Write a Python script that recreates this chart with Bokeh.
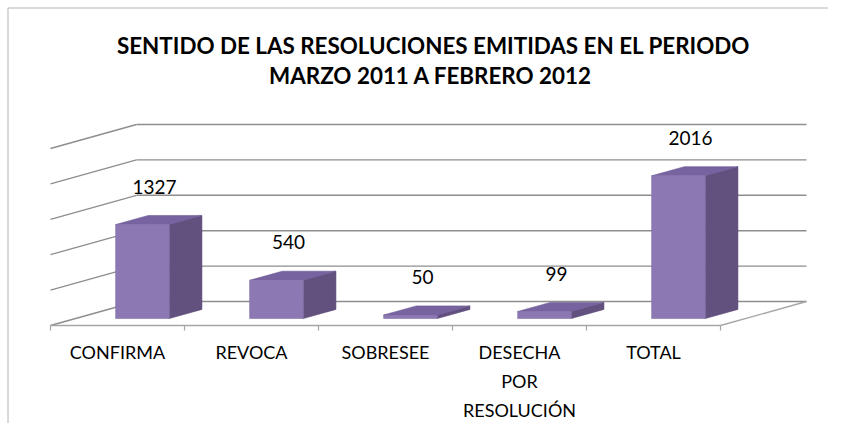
from bokeh.plotting import figure
from bokeh.models import Range1d
from bokeh.embed import file_html
from bokeh.resources import INLINE
from bokeh.core.properties import value

# ---- data ----
categories = ["CONFIRMA", "REVOCA", "SOBRESEE", "DESECHA\nPOR\nRESOLUCIÓN", "TOTAL"]
counts = [1327, 540, 50, 99, 2016]
grid_values = [0, 500, 1000, 1500, 2000, 2500]
title_lines = ["SENTIDO DE LAS RESOLUCIONES EMITIDAS EN EL PERIODO",
               "MARZO 2011  A FEBRERO 2012"]

# ---- geometry (pixel scale of the 3D projection) ----
W, H = 828, 423
X0, Y0 = 50, 325        # canvas px of the front-floor origin
UX = 134.0              # px per category
KY = 0.0708             # px per value unit
DX = 86 / UX            # depth offset in x (category units)
DY = 24 / KY            # depth offset in y (value units)
F0, F1 = 0.29, 0.67     # bar depth span (fraction of floor depth)
BW = 0.40               # bar width (category units)
N = len(categories)


def sx(px):
    return (px - X0) / UX


def sy(py):
    return (Y0 - py) / KY


p = figure(width=W, height=H,
           x_range=Range1d(sx(0), sx(W)), y_range=Range1d(sy(H), sy(0)),
           output_backend="svg", toolbar_location=None, min_border=0,
           x_axis_location=None, y_axis_location=None)
p.grid.visible = False
p.outline_line_color = None
p.background_fill_color = "white"

# chart border (left + top)
p.line([sx(7.5), sx(7.5)], [sy(H), sy(7.5)], line_color="#b4b4b4", line_width=1)
p.line([sx(7.5), sx(W)], [sy(7.5), sy(7.5)], line_color="#b4b4b4", line_width=1)

# back wall gridlines + left wall diagonals
grid_col = "#8e8e8e"
p.multi_line([[DX, N + DX] for v in grid_values],
             [[DY + v, DY + v] for v in grid_values],
             line_color=grid_col, line_width=1.4)
p.multi_line([[0, DX] for v in grid_values],
             [[v, DY + v] for v in grid_values],
             line_color=grid_col, line_width=1.4)

# floor front edge, right edge, ticks
floor_col = "#a6a6a6"
p.line([0, N], [0, 0], line_color=floor_col, line_width=1.4)
p.line([N, N + DX], [0, DY], line_color=floor_col, line_width=1.4)
p.multi_line([[i, i] for i in range(N + 1)],
             [[0, -5 / KY] for i in range(N + 1)],
             line_color=floor_col, line_width=1.2)

# ---- 3D bars ----
front_xs, front_ys, side_xs, side_ys, top_xs, top_ys = [], [], [], [], [], []
for i, v in enumerate(counts):
    l = i + 0.5 - BW / 2
    r = i + 0.5 + BW / 2
    ax0, ay0 = F0 * DX, F0 * DY
    ax1, ay1 = F1 * DX, F1 * DY
    front_xs.append([l + ax0, r + ax0, r + ax0, l + ax0])
    front_ys.append([ay0, ay0, ay0 + v, ay0 + v])
    side_xs.append([r + ax0, r + ax1, r + ax1, r + ax0])
    side_ys.append([ay0, ay1, ay1 + v, ay0 + v])
    top_xs.append([l + ax0, r + ax0, r + ax1, l + ax1])
    top_ys.append([ay0 + v, ay0 + v, ay1 + v, ay1 + v])

p.patches(side_xs, side_ys, fill_color="#62507f", line_color="#5a4876", line_width=0.6)
p.patches(top_xs, top_ys, fill_color="#7663a0", line_color="#6d5a95", line_width=0.6)
p.patches(front_xs, front_ys, fill_color="#8c78b2", line_color="#8470aa", line_width=0.6)

# value labels
lab_x = [i + 0.5 + 0.43 * DX for i in range(N)]
lab_y = [F0 * DY + v + 38 / KY for v in counts]
p.text(lab_x, lab_y, text=[str(v) for v in counts],
       text_font=value("Lato"), text_font_size="19px", text_color="#000000",
       text_align="center", text_baseline="middle")

# category labels
p.text([i + 0.5 for i in range(N)], [-15 / KY] * N, text=categories,
       text_font=value("Lato"), text_font_size="18px", text_color="#000000",
       text_align="center", text_baseline="top", text_line_height=1.33)

# title
p.text([sx(433)] * 2, [sy(45), sy(75)], text=title_lines,
       text_font=value("Lato"), text_font_size="22.4px", text_font_style="bold",
       text_color="#000000", text_align="center", text_baseline="middle")

open("out.html", "w").write(file_html(p, INLINE))
